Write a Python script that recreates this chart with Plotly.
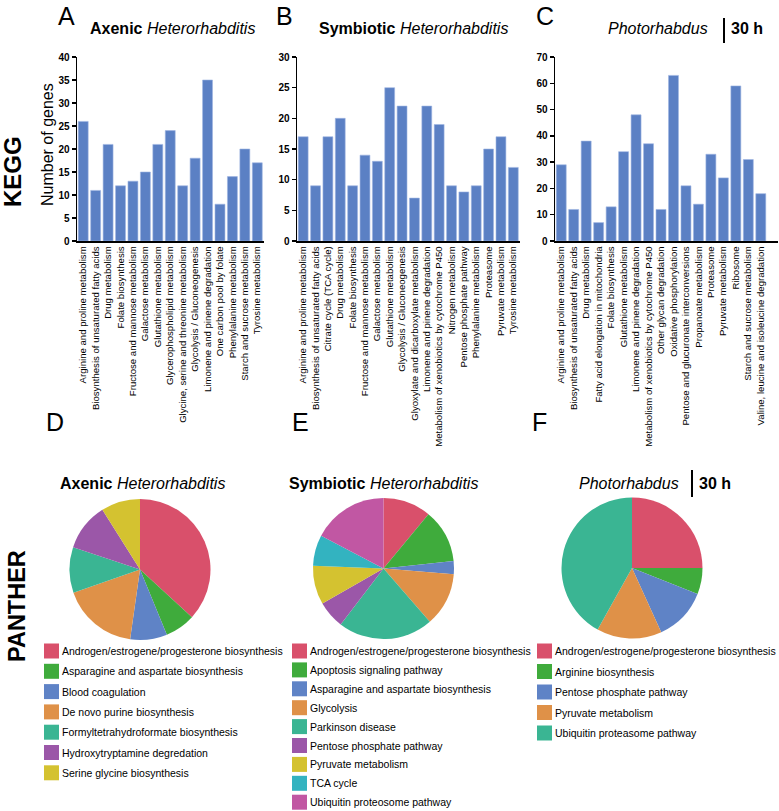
import plotly.graph_objects as go

W, H = 779, 811
FONT = "Liberation Sans, Arial, Helvetica, sans-serif"

# ---------------- KEGG data ----------------
axenic_kegg_cats = [
    "Arginine and proline metabolism", "Biosynthesis of unsaturated fatty acids",
    "Drug metabolism", "Folate biosynthesis", "Fructose and mannose metabolism",
    "Galactose metabolism", "Glutathione metabolism", "Glycerophospholipid metabolism",
    "Glycine, serine and threonine metabolism", "Glycolysis / Gluconeogenesis",
    "Limonene and pinene degradation", "One carbon pool by folate",
    "Phenylalanine metabolism", "Starch and sucrose metabolism", "Tyrosine metabolism",
]
axenic_kegg_vals = [26, 11, 21, 12, 13, 15, 21, 24, 12, 18, 35, 8, 14, 20, 17]

symb_kegg_cats = [
    "Arginine and proline metabolism", "Biosynthesis of unsaturated fatty acids",
    "Citrate cycle (TCA cycle)", "Drug metabolism", "Folate biosynthesis",
    "Fructose and mannose metabolism", "Galactose metabolism", "Glutathione metabolism",
    "Glycolysis / Gluconeogenesis", "Glyoxylate and dicarboxylate metabolism",
    "Limonene and pinene degradation", "Metabolism of xenobiotics by cytochrome P450",
    "Nitrogen metabolism", "Pentose phosphate pathway", "Phenylalanine metabolism",
    "Proteasome", "Pyruvate metabolism", "Tyrosine metabolism",
]
symb_kegg_vals = [17, 9, 17, 20, 9, 14, 13, 25, 22, 7, 22, 19, 9, 8, 9, 15, 17, 12]

photo_kegg_cats = [
    "Arginine and proline metabolism", "Biosynthesis of unsaturated fatty acids",
    "Drug metabolism", "Fatty acid elongation in mitochondria", "Folate biosynthesis",
    "Glutathione metabolism", "Limonene and pinene degradation",
    "Metabolism of xenobiotics by cytochrome P450", "Other glycan degradation",
    "Oxidative phosphorylation", "Pentose and glucuronate interconversions",
    "Propanoate metabolism", "Proteasome", "Pyruvate metabolism", "Ribosome",
    "Starch and sucrose metabolism", "Valine, leucine and isoleucine degradation",
]
photo_kegg_vals = [29, 12, 38, 7, 13, 34, 48, 37, 12, 63, 21, 14, 33, 24, 59, 31, 18]

# ---------------- PANTHER data ----------------
axenic_panther_labels = [
    "Androgen/estrogene/progesterone biosynthesis", "Asparagine and aspartate biosynthesis",
    "Blood coagulation", "De novo purine biosynthesis", "Formyltetrahydroformate biosynthesis",
    "Hydroxytryptamine degredation", "Serine glycine biosynthesis",
]
axenic_panther_vals = [37, 7, 8.5, 17.5, 10.5, 11, 9]

symb_panther_labels = [
    "Androgen/estrogene/progesterone biosynthesis", "Apoptosis signaling pathway",
    "Asparagine and aspartate biosynthesis", "Glycolysis", "Parkinson disease",
    "Pentose phosphate pathway", "Pyruvate metabolism", "TCA cycle",
    "Ubiquitin proteosome pathway",
]
symb_panther_vals = [11, 12.3, 3, 12.3, 21.8, 6.3, 8.9, 7.1, 17.3]

photo_panther_labels = [
    "Androgen/estrogene/progesterone biosynthesis", "Arginine biosynthesis",
    "Pentose phosphate pathway", "Pyruvate metabolism", "Ubiquitin proteasome pathway",
]
photo_panther_vals = [25, 6, 12.2, 14.9, 41.9]

# ---------------- styles ----------------
BAR_COLOR = "#5b80c4"
RED, GREEN, BLUE, ORANGE = "#d9506b", "#3fab3c", "#5f83c6", "#df9148"
TEAL, PURPLE, YELLOW, CYAN, MAGENTA = "#3ab593", "#9b57a8", "#d4c230", "#33b3c0", "#c157a3"
axenic_colors = [RED, GREEN, BLUE, ORANGE, TEAL, PURPLE, YELLOW]
symb_colors = [RED, GREEN, BLUE, ORANGE, TEAL, PURPLE, YELLOW, CYAN, MAGENTA]
photo_colors = [RED, GREEN, BLUE, ORANGE, TEAL]


def px(x):
    return x / W


def py(y):
    return 1 - y / H


fig = go.Figure()

bar_panels = [
    (axenic_kegg_cats, axenic_kegg_vals, "x", "y", (77, 263.5), 40, 5, None),
    (symb_kegg_cats, symb_kegg_vals, "x2", "y2", (297, 519.5), 30, 5, None),
    (photo_kegg_cats, photo_kegg_vals, "x3", "y3", (555, 778), 70, 10, 17.38),
]

layout_axes = {}
for i, (cats, vals, xa, ya, dom, ymax, dt, xmax) in enumerate(bar_panels):
    fig.add_trace(go.Bar(
        x=cats, y=vals, xaxis=xa, yaxis=ya, marker_color=BAR_COLOR,
        marker_line=dict(color="#9fb6e2", width=0.6), showlegend=False,
    ))
    sfx = "" if i == 0 else str(i + 1)
    xr = [-0.5, (len(cats) - 0.5) if xmax is None else xmax]
    layout_axes["xaxis" + sfx] = dict(
        domain=[px(dom[0]), px(dom[1])], anchor="y" + sfx, type="category",
        range=xr, showline=True, linecolor="black", linewidth=1.5, ticks="",
        tickangle=-90, tickfont=dict(family=FONT, size=9.6, color="black"),
        showgrid=False, zeroline=False, automargin=False, fixedrange=True,
    )
    layout_axes["yaxis" + sfx] = dict(
        domain=[py(241), py(57)], anchor="x" + sfx, range=[0, ymax], dtick=dt,
        showline=True, linecolor="black", linewidth=1.5, ticks="outside",
        ticklen=4, tickwidth=1.5, tickcolor="black",
        tickfont=dict(family=FONT, size=10, color="black", weight="bold"),
        showgrid=False, zeroline=False, automargin=False,
    )

pie_panels = [
    (axenic_panther_labels, axenic_panther_vals, axenic_colors, (140, 569.5), 70.5),
    (symb_panther_labels, symb_panther_vals, symb_colors, (383.5, 568.5), 70.5),
    (photo_panther_labels, photo_panther_vals, photo_colors, (632, 568), 70.5),
]
for labels, vals, cols, (cx, cy), r in pie_panels:
    fig.add_trace(go.Pie(
        labels=labels, values=vals, sort=False, direction="clockwise", rotation=0,
        marker=dict(colors=cols, line=dict(width=0)), textinfo="none",
        domain=dict(x=[px(cx - r), px(cx + r)], y=[py(cy + r), py(cy - r)]),
        showlegend=False,
    ))

annotations = []
shapes = []


def text(x, y, t, size, xanchor="left", yanchor="middle", angle=0, weight="normal"):
    annotations.append(dict(
        x=px(x), y=py(y), xref="paper", yref="paper", text=t, showarrow=False,
        xanchor=xanchor, yanchor=yanchor, textangle=angle,
        font=dict(family=FONT, size=size, color="black", weight=weight),
    ))


# panel letters
for letter, x, y in [("A", 56, 16), ("B", 274, 16), ("C", 534, 16),
                     ("D", 44, 422), ("E", 290, 422), ("F", 530, 422)]:
    text(x, y, letter, 25)

# y-axis title (panel A only)
text(47, 145, "Number of genes", 16, xanchor="center", angle=-90)

# panel titles
text(172, 28, "<b>Axenic</b> <i>Heterorhabditis</i>", 16, xanchor="center")
text(413, 28, "<b>Symbiotic</b> <i>Heterorhabditis</i>", 16, xanchor="center")
text(658, 28, "<i>Photorhabdus</i>", 16, xanchor="center")
text(729, 29, "30 h", 16, weight="bold")
shapes.append(dict(type="line", xref="paper", yref="paper", x0=px(724), x1=px(724),
                   y0=py(18), y1=py(43), line=dict(color="black", width=2)))

text(142, 483, "<b>Axenic</b> <i>Heterorhabditis</i>", 16, xanchor="center")
text(383, 483, "<b>Symbiotic</b> <i>Heterorhabditis</i>", 16, xanchor="center")
text(629, 483, "<i>Photorhabdus</i>", 16, xanchor="center")
text(697, 483, "30 h", 16, weight="bold")
shapes.append(dict(type="line", xref="paper", yref="paper", x0=px(692), x1=px(692),
                   y0=py(470), y1=py(497), line=dict(color="black", width=2)))

# row labels
text(13, 172, "KEGG", 24, xanchor="center", angle=-90, weight="bold")
text(17, 606, "PANTHER", 23.5, xanchor="center", angle=-90, weight="bold")

# custom legends
legends = [
    (axenic_panther_labels, axenic_colors, 44, 651, 20.3),
    (symb_panther_labels, symb_colors, 292, 651, 18.9),
    (photo_panther_labels, photo_colors, 537, 651, 20.5),
]
for labels, cols, x0, y0, step in legends:
    for k, (lab, col) in enumerate(zip(labels, cols)):
        yc = y0 + k * step
        shapes.append(dict(type="rect", xref="paper", yref="paper",
                           x0=px(x0), x1=px(x0 + 15), y0=py(yc + 7.5), y1=py(yc - 7.5),
                           fillcolor=col, line=dict(width=0)))
        text(x0 + 16, yc, lab, 10.5)

fig.update_layout(
    width=W, height=H, margin=dict(l=0, r=0, t=0, b=0),
    paper_bgcolor="white", plot_bgcolor="white",
    bargap=0.2, annotations=annotations, shapes=shapes,
    font=dict(family=FONT, color="black"),
    **layout_axes,
)

fig.write_html(
    "out.html",
    config={"displayModeBar": False, "staticPlot": True},
    post_script="document.body.style.margin='0px';document.body.style.overflow='hidden';",
)
